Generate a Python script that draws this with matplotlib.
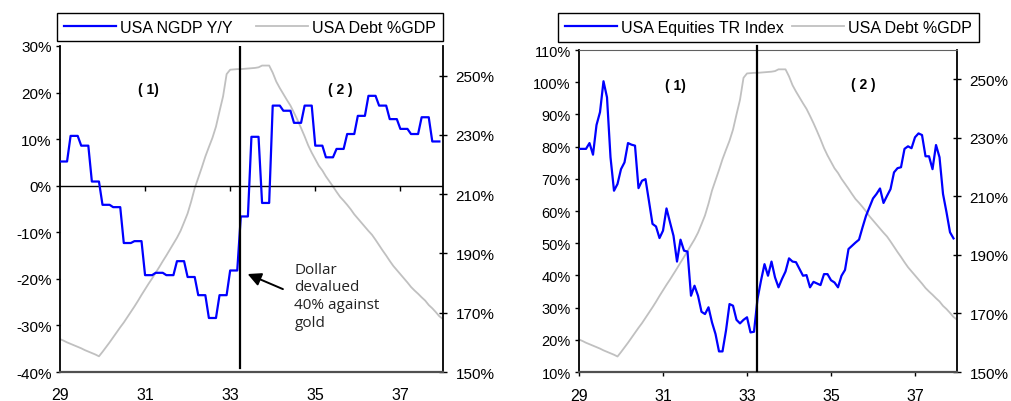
import matplotlib
matplotlib.use('Agg')
import matplotlib.pyplot as plt  # flake8: noqa
import numpy as np

plt.rcParams['font.family'] = ['Liberation Sans', 'DejaVu Sans']

BLUE = '#0000ff'
GREY = '#c0c0c0'

# nominal GDP y/y, one value per quarter, 1929Q1 - 1937Q4 (%)
ngdp_quarterly = [5.2, 10.7, 8.6, 0.9, -4.1, -4.6, -12.3, -11.9,
                  -19.2, -18.7, -19.2, -16.2, -19.6, -23.5, -28.4, -23.5,
                  -18.2, -6.6, 10.5, -3.7, 17.2, 16.1, 13.5, 17.2,
                  8.6, 6.1, 7.9, 11.1, 15.0, 19.3, 17.2, 14.3,
                  12.2, 11.1, 14.7, 9.5]

# equities total return index, monthly from Jan 1929 (%)
equities = [79.3, 79.3, 79.3, 81.1, 77.5, 86.7, 90.7, 100.3, 95.3, 76.7,
            66.3, 68.4, 73.0, 75.1, 81.1, 80.6, 80.3, 67.1, 69.4, 69.9,
            63.0, 56.0, 55.2, 51.6, 53.9, 60.8, 56.5, 52.3, 44.3, 51.1,
            47.7, 47.4, 33.7, 36.8, 33.7, 28.7, 28.0, 30.1, 25.4, 21.8,
            16.4, 16.4, 22.9, 31.1, 30.6, 26.2, 25.1, 26.2, 27.0, 22.3,
            22.5, 32.7, 38.4, 43.5, 39.9, 44.3, 39.4, 36.3, 38.9, 41.2,
            45.3, 44.3, 44.1, 42.0, 39.9, 40.1, 36.3, 38.0, 37.5, 37.0,
            40.4, 40.4, 38.5, 37.8, 36.3, 39.9, 41.7, 48.2, 49.2, 50.2,
            51.1, 54.9, 58.5, 61.2, 63.9, 65.3, 67.0, 62.5, 64.7, 66.8,
            72.0, 73.3, 73.6, 79.3, 80.1, 79.5, 82.9, 84.1, 83.6, 77.0,
            77.0, 73.0, 80.5, 76.7, 65.3, 59.6, 53.4, 51.5]

# total debt as % of GDP, monthly from Jan 1929
debt_gdp = [161.1, 160.6, 160.0, 159.5, 159.0, 158.5, 158.0, 157.4, 156.9, 156.4,
            155.9, 155.3, 156.8, 158.4, 160.0, 161.7, 163.4, 165.1, 166.7, 168.5,
            170.3, 172.1, 174.0, 176.0, 177.9, 179.8, 181.6, 183.5, 185.4, 187.4,
            189.3, 191.3, 193.3, 195.3, 197.6, 200.5, 203.5, 207.5, 212.0, 215.5,
            219.0, 222.7, 225.9, 229.0, 232.8, 238.0, 243.0, 250.5, 252.0, 252.1,
            252.2, 252.2, 252.3, 252.4, 252.5, 252.6, 252.8, 253.4, 253.4, 253.4,
            251.0, 248.0, 245.8, 243.8, 241.8, 239.9, 237.5, 235.0, 232.3, 229.5,
            226.5, 224.0, 221.8, 219.6, 218.0, 216.0, 214.3, 212.6, 210.8, 209.1,
            207.8, 206.4, 204.9, 203.2, 201.8, 200.4, 199.0, 197.6, 196.3, 194.6,
            192.8, 191.0, 189.3, 187.5, 185.8, 184.4, 183.0, 181.6, 180.2, 178.7,
            177.5, 176.4, 175.2, 174.1, 172.6, 171.5, 170.2, 168.8, 167.9]

year_ticks = [29, 31, 33, 35, 37]
devaluation = 33.23

ngdp = np.repeat(ngdp_quarterly, 3)
x_ngdp = 29 + np.arange(len(ngdp)) / 12.0
x_eq = 29 + np.arange(len(equities)) / 12.0
x_debt = 29 + np.arange(len(debt_gdp)) / 12.0


def make_panel(rect, left_lim, left_ticks, box_top, ylab_size):
    ax = fig.add_axes(rect)
    tw = ax.twinx()
    ax.set_zorder(tw.get_zorder() + 1)
    ax.patch.set_visible(False)

    debt_line, = tw.plot(x_debt, debt_gdp, color=GREY, lw=1.3)
    tw.set_ylim(150, 260)
    tw.set_yticks(range(150, 251, 20))
    tw.set_yticklabels(['%d%%' % v for v in range(150, 251, 20)])
    tw.tick_params(axis='y', direction='inout', length=6, width=1,
                   labelsize=11, pad=6)

    ax.set_xlim(29, 38)
    ax.set_ylim(*left_lim)
    ax.set_yticks(left_ticks)
    ax.set_yticklabels(['%d%%' % v for v in left_ticks])
    ax.set_xticks(year_ticks)
    ax.set_xticklabels([str(y) for y in year_ticks])
    ax.tick_params(axis='y', direction='out', length=3, width=1,
                   labelsize=ylab_size, pad=3)

    for s in ('top', 'left', 'bottom'):
        tw.spines[s].set_visible(False)
    tw.spines['right'].set_color('black')
    tw.spines['right'].set_linewidth(1.3)
    ax.spines['right'].set_visible(False)
    ax.spines['left'].set_linewidth(1.3)
    ax.spines['bottom'].set_color('#505050')
    ax.spines['bottom'].set_linewidth(1.6)
    if box_top:
        ax.spines['top'].set_color('#606060')
        ax.spines['top'].set_linewidth(0.8)
    else:
        ax.spines['top'].set_visible(False)
    return ax, tw, debt_line


fig = plt.figure(figsize=(10.11, 4.02), dpi=100)

# left panel: nominal GDP
ax1, tw1, debt1 = make_panel([0.0593, 0.0721, 0.3788, 0.811],
                             (-40, 30), list(range(-40, 31, 10)), False, 11)
ngdp_line, = ax1.plot(x_ngdp, ngdp, color=BLUE, lw=1.6, zorder=3)
ax1.axhline(0, color='black', lw=1, zorder=2)
ax1.plot(year_ticks[1:], [0] * 4, ls='none', marker=3, ms=3.5, mew=1,
         color='black', zorder=2)
ax1.tick_params(axis='x', length=0, pad=11, labelsize=11.5)
ax1.axvline(devaluation, ymin=0.012, ymax=1.0, color='black', lw=1.6, zorder=4)
ax1.text(31.07, 20.8, '( 1)', fontsize=10, fontweight='bold',
         ha='center', va='center')
ax1.text(35.59, 20.8, '( 2 )', fontsize=10, fontweight='bold',
         ha='center', va='center')
ax1.annotate('', xy=(33.41, -18.96), xytext=(34.24, -22.2),
             arrowprops=dict(arrowstyle='-|>', color='black', lw=1.4,
                             mutation_scale=20, shrinkA=0, shrinkB=0))
ax1.text(34.51, -16.3, 'Dollar\ndevalued\n40% against\ngold',
         family=['Open Sans', 'DejaVu Sans'], fontsize=11,
         ha='left', va='top', linespacing=1.25, color='#222222')
leg1 = ax1.legend([ngdp_line, debt1], ['USA NGDP Y/Y', 'USA Debt %GDP'],
                  loc='center', bbox_to_anchor=(0.0564, 0.893, 0.3818, 0.0746),
                  bbox_transform=fig.transFigure, mode='expand', ncol=2,
                  fancybox=False, edgecolor='black', framealpha=1,
                  fontsize=11.5, handlelength=3.3, handletextpad=0.25,
                  borderpad=0.42, borderaxespad=0)
leg1.get_frame().set_linewidth(1.0)

# right panel: equities
ax2, tw2, debt2 = make_panel([0.5727, 0.0721, 0.3739, 0.801],
                             (10, 110), list(range(10, 111, 10)), True, 10.5)
eq_line, = ax2.plot(x_eq, equities, color=BLUE, lw=1.6, zorder=3)
ax2.tick_params(axis='x', direction='out', length=3, width=1, pad=8.5,
                labelsize=11.5)
ax2.axvline(devaluation, ymin=0.003, ymax=1.012, color='black', lw=1.6,
            zorder=4, clip_on=False)
ax2.text(31.3, 99.0, '( 1)', fontsize=10, fontweight='bold',
         ha='center', va='center')
ax2.text(35.77, 99.4, '( 2 )', fontsize=10, fontweight='bold',
         ha='center', va='center')
leg2 = ax2.legend([eq_line, debt2], ['USA Equities TR Index', 'USA Debt %GDP'],
                  loc='center', bbox_to_anchor=(0.5519, 0.8905, 0.4164, 0.0771),
                  bbox_transform=fig.transFigure, mode='expand', ncol=2,
                  fancybox=False, edgecolor='black', framealpha=1,
                  fontsize=11.5, handlelength=3.3, handletextpad=0.25,
                  borderpad=0.42, borderaxespad=0)
leg2.get_frame().set_linewidth(1.0)

fig.savefig('out.png', dpi=100)
